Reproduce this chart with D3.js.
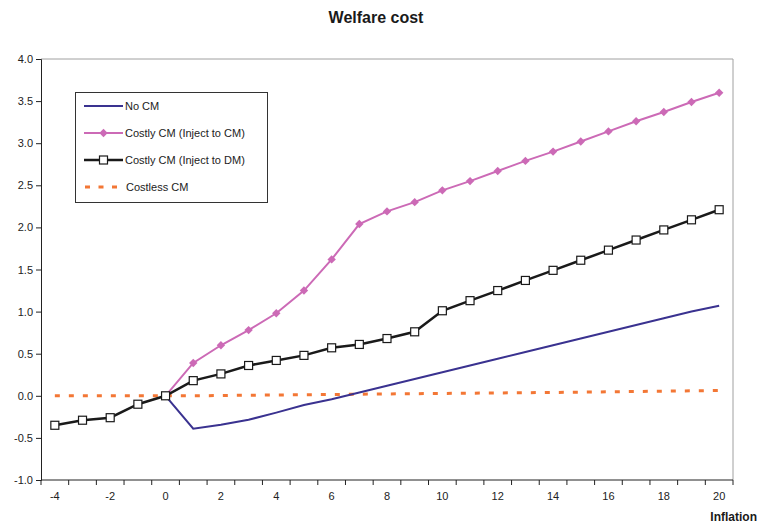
<!DOCTYPE html>
<html>
<head>
<meta charset="utf-8">
<script src="https://cdn.jsdelivr.net/npm/d3@7"></script>
<style>
  body { margin: 0; background: #fff; }
  svg { font-family: "Liberation Sans", Arial, sans-serif; }
</style>
</head>
<body>
<svg id="chart" width="763" height="526"></svg>
<script>
// inflation categories
var inflation = [-4, -3, -2, -1, 0, 1, 2, 3, 4, 5, 6, 7, 8, 9, 10, 11, 12, 13, 14, 15, 16, 17, 18, 19, 20];

// series values (null = no point)
var noCM = [null, null, null, null, 0, -0.39, -0.345, -0.285, -0.20, -0.11, -0.04, 0.04, 0.12, 0.20, 0.28,
    0.36, 0.44, 0.52, 0.60, 0.68, 0.76, 0.84, 0.92, 1.00, 1.07];
var costlyToCM = [null, null, null, null, 0, 0.39, 0.60, 0.78, 0.98, 1.25, 1.62, 2.04, 2.19, 2.30, 2.44,
    2.55, 2.67, 2.79, 2.90, 3.02, 3.14, 3.26, 3.37, 3.49, 3.60];
var costlyToDM = [-0.35, -0.29, -0.26, -0.10, 0, 0.18, 0.26, 0.36, 0.42, 0.48, 0.57, 0.61, 0.68, 0.76, 1.01,
    1.13, 1.25, 1.37, 1.49, 1.61, 1.73, 1.85, 1.97, 2.09, 2.21];
var costless = [0, 0, 0, 0, 0, 0.0, 0.003, 0.007, 0.01, 0.013, 0.016, 0.019, 0.022, 0.025, 0.028,
    0.031, 0.034, 0.037, 0.04, 0.043, 0.047, 0.051, 0.055, 0.059, 0.063];

var xLabels = [-4, -2, 0, 2, 4, 6, 8, 10, 12, 14, 16, 18, 20];
var yTicks = [-1, -0.5, 0, 0.5, 1, 1.5, 2, 2.5, 3, 3.5, 4];

var legendNames = ["No CM", "Costly CM (Inject to CM)", "Costly CM (Inject to DM)", "Costless CM"];

var plotLeft = 41, plotRight = 733, plotTop = 59, plotBottom = 480;

var svg = d3.select('#chart');

var xScale = d3.scaleBand().domain(inflation).range([plotLeft, plotRight]).padding(0);
var yScale = d3.scaleLinear().domain([-1, 4]).range([plotBottom, plotTop]);
var cx = function(c) { return xScale(c) + xScale.bandwidth() / 2; };

// title
svg.append('text')
    .attr('x', 376).attr('y', 23)
    .attr('text-anchor', 'middle')
    .style('font-size', '16px')
    .style('font-weight', 'bold')
    .attr('fill', '#1a1a1a')
    .text('Welfare cost');

// plot area border (top + right)
svg.append('path')
    .attr('d', 'M' + plotLeft + ',' + plotTop + 'H' + plotRight + 'V' + plotBottom)
    .attr('fill', 'none')
    .attr('stroke', '#a0a0a0')
    .attr('stroke-width', 1);

// y axis
var gy = svg.append('g')
    .attr('transform', 'translate(' + plotLeft + ',0)')
    .call(d3.axisLeft(yScale).tickValues(yTicks).tickSize(5).tickPadding(3)
        .tickFormat(function(d) { return d.toFixed(1); }));
gy.select('.domain').attr('stroke', '#222');
gy.selectAll('.tick line').attr('stroke', '#222');
gy.selectAll('.tick text').style('font-size', '11px').attr('fill', '#222');

// x axis: labels at category centres, tick marks between categories
var gx = svg.append('g')
    .attr('transform', 'translate(0,' + plotBottom + ')')
    .call(d3.axisBottom(xScale).tickValues(xLabels).tickSize(0).tickPadding(12)
        .tickFormat(function(d) { return String(d); }));
gx.select('.domain').attr('stroke', '#222').attr('d', 'M' + plotLeft + ',0H' + plotRight);
gx.selectAll('.tick text').style('font-size', '11px').attr('fill', '#222');

var bounds = inflation.map(function(c) { return xScale(c); }).concat([plotRight]);
gx.selectAll('.between')
    .data(bounds)
    .enter().append('line')
    .attr('class', 'between')
    .attr('x1', function(d) { return d; }).attr('x2', function(d) { return d; })
    .attr('y1', 0).attr('y2', 5)
    .attr('stroke', '#222');

svg.append('text')
    .attr('x', 757).attr('y', 521)
    .attr('text-anchor', 'end')
    .style('font-size', '12px')
    .style('font-weight', 'bold')
    .attr('fill', '#1a1a1a')
    .text('Inflation');

function series(vals) {
    return inflation.map(function(c, i) { return { x: c, y: vals[i] }; })
        .filter(function(d) { return d.y !== null; });
}

var line = d3.line()
    .x(function(d) { return cx(d.x); })
    .y(function(d) { return yScale(d.y); });

// Costless CM (dashed)
svg.append('path')
    .datum(series(costless))
    .attr('d', line)
    .attr('fill', 'none')
    .attr('stroke', '#f37735')
    .attr('stroke-width', 3)
    .attr('stroke-dasharray', '5,9');

// No CM
svg.append('path')
    .datum(series(noCM))
    .attr('d', line)
    .attr('fill', 'none')
    .attr('stroke', '#3a3290')
    .attr('stroke-width', 2);

// Costly CM (Inject to CM)
svg.append('path')
    .datum(series(costlyToCM))
    .attr('d', line)
    .attr('fill', 'none')
    .attr('stroke', '#cc6ab6')
    .attr('stroke-width', 2);

// square diamond marker
var diamond = 'M0,-4.2L4.2,0L0,4.2L-4.2,0Z';
svg.selectAll('.dia')
    .data(series(costlyToCM))
    .enter().append('path')
    .attr('class', 'dia')
    .attr('d', diamond)
    .attr('transform', function(d) { return 'translate(' + cx(d.x) + ',' + yScale(d.y) + ')'; })
    .attr('fill', '#cc6ab6');

// Costly CM (Inject to DM)
svg.append('path')
    .datum(series(costlyToDM))
    .attr('d', line)
    .attr('fill', 'none')
    .attr('stroke', '#1a1a1a')
    .attr('stroke-width', 2.5);

svg.selectAll('.sq')
    .data(series(costlyToDM))
    .enter().append('rect')
    .attr('class', 'sq')
    .attr('x', function(d) { return cx(d.x) - 4; })
    .attr('y', function(d) { return yScale(d.y) - 4; })
    .attr('width', 8).attr('height', 8)
    .attr('fill', '#fff')
    .attr('stroke', '#1a1a1a')
    .attr('stroke-width', 1.2);

// legend
var legend = svg.append('g');
legend.append('rect')
    .attr('x', 75.5).attr('y', 92.5)
    .attr('width', 192).attr('height', 110)
    .attr('fill', '#fff')
    .attr('stroke', '#333')
    .attr('stroke-width', 1);

var rowY = [106, 133, 160, 187];
legendNames.forEach(function(name, i) {
    var y = rowY[i];
    var g = legend.append('g');
    if (i === 0) {
        g.append('line').attr('x1', 84).attr('x2', 123).attr('y1', y).attr('y2', y)
            .attr('stroke', '#3a3290').attr('stroke-width', 2);
    } else if (i === 1) {
        g.append('line').attr('x1', 84).attr('x2', 123).attr('y1', y).attr('y2', y)
            .attr('stroke', '#cc6ab6').attr('stroke-width', 2);
        g.append('path').attr('d', diamond).attr('transform', 'translate(103.5,' + y + ')')
            .attr('fill', '#cc6ab6');
    } else if (i === 2) {
        g.append('line').attr('x1', 84).attr('x2', 123).attr('y1', y).attr('y2', y)
            .attr('stroke', '#1a1a1a').attr('stroke-width', 2.5);
        g.append('rect').attr('x', 99.5).attr('y', y - 4).attr('width', 8).attr('height', 8)
            .attr('fill', '#fff').attr('stroke', '#1a1a1a').attr('stroke-width', 1.2);
    } else {
        g.append('line').attr('x1', 85).attr('x2', 123).attr('y1', y).attr('y2', y)
            .attr('stroke', '#f37735').attr('stroke-width', 3).attr('stroke-dasharray', '5,8.5');
    }
    g.append('text')
        .attr('x', i === 3 ? 126 : 125).attr('y', y + 4)
        .style('font-size', '11px')
        .attr('fill', '#222')
        .text(name);
});
</script>
</body>
</html>
